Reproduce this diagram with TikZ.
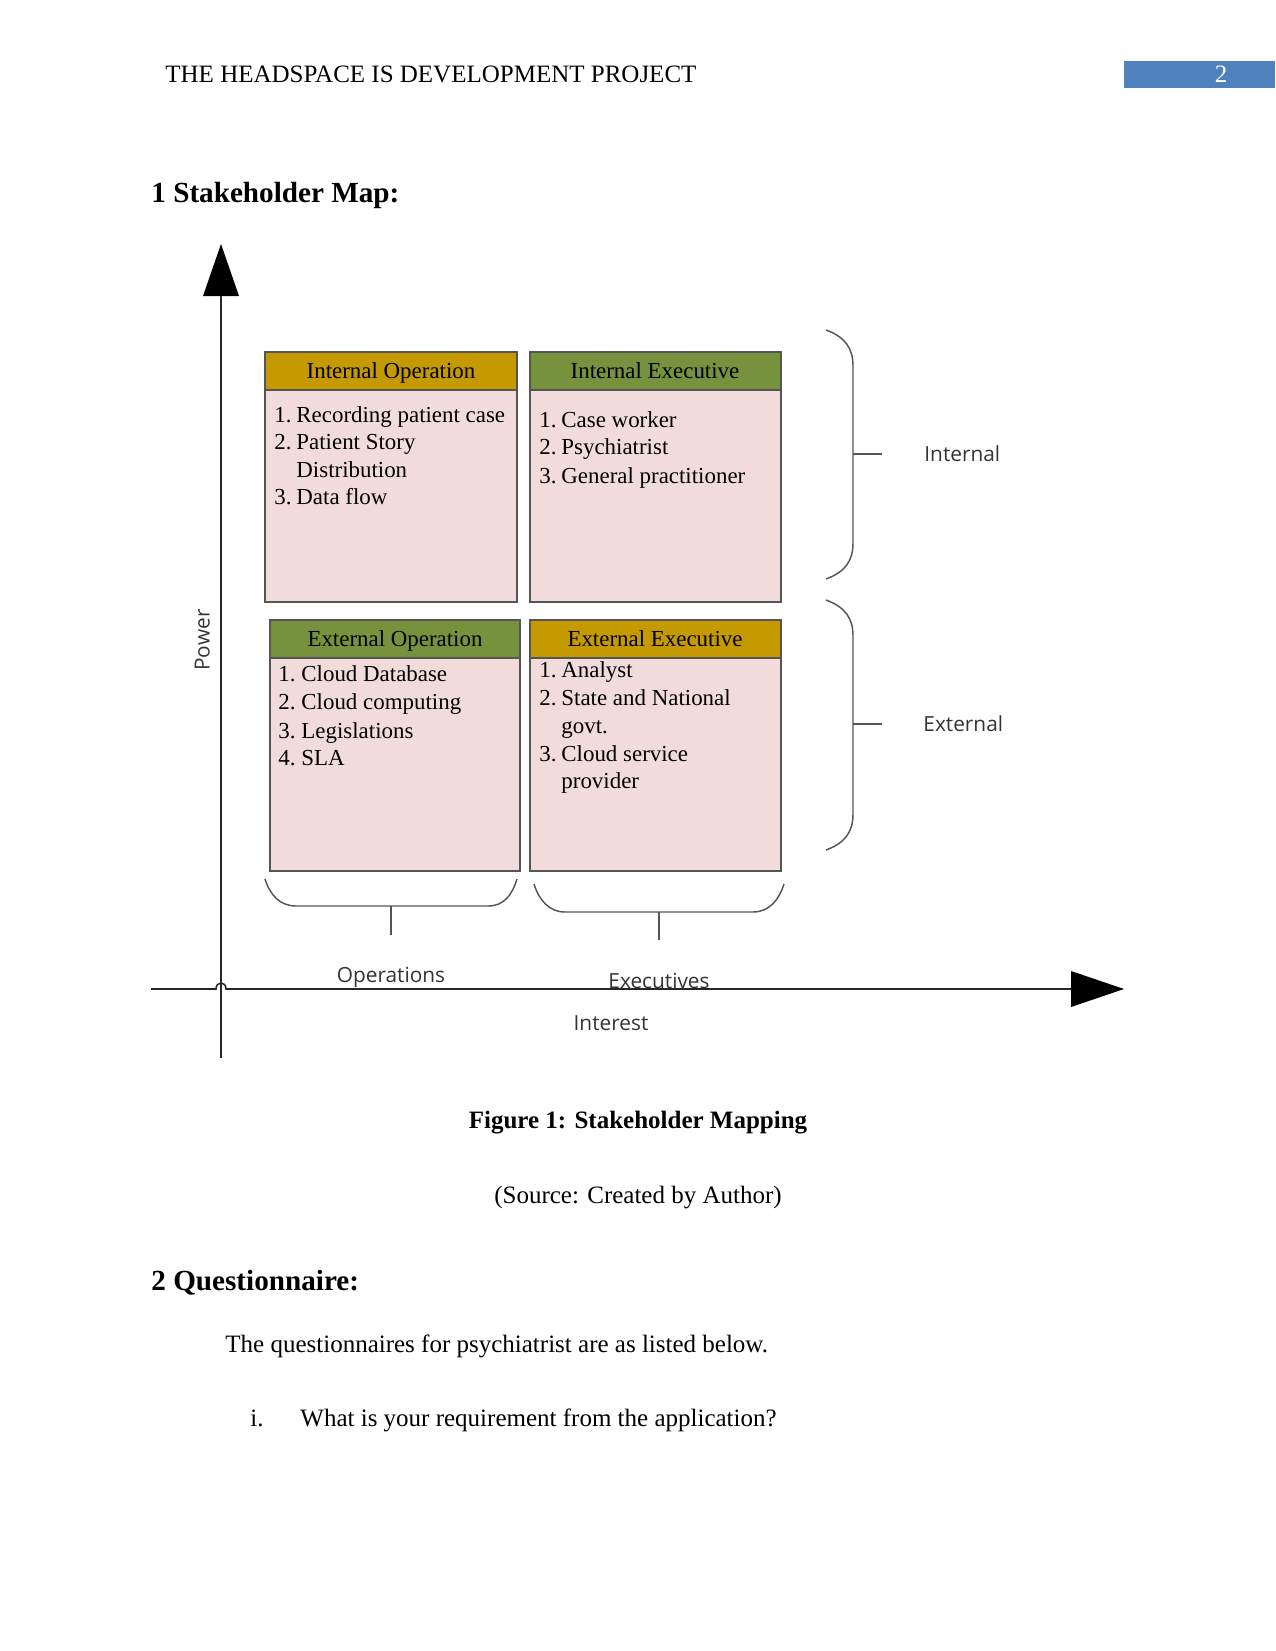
\documentclass[tikz,border=0pt]{standalone}
\usepackage{fontspec}
\setmainfont{Liberation Serif}
\newfontfamily\labelfont{Open Sans}
\definecolor{hdrgold}{HTML}{C49A00}
\definecolor{hdrgreen}{HTML}{76923C}
\definecolor{bodypink}{HTML}{F2DCDB}
\definecolor{pageblue}{HTML}{4F81BD}
\definecolor{edgegray}{HTML}{555555}
\begin{document}
\begin{tikzpicture}[x=0.48pt,y=-0.48pt,
  evenbox/.style={inner sep=0pt,text height=1.9ex,text depth=0.3ex},
  quadbody/.style={draw=edgegray,fill=bodypink,line width=0.8pt},
  quadhead/.style={draw=edgegray,line width=0.8pt},
  headtext/.style={evenbox,font=\fontsize{11}{13}\selectfont},
  itemtext/.style={evenbox,font=\fontsize{11}{13}\selectfont,anchor=west},
  sanslabel/.style={evenbox,font=\labelfont\fontsize{10}{12}\selectfont,text=black!80},
  bodytext/.style={evenbox,font=\fontsize{12}{14}\selectfont},
  bracket/.style={draw=edgegray,line width=0.7pt},
  axisline/.style={draw=black!85,line width=0.75pt}
]
\useasboundingbox (0,0) rectangle (1275,1651);

% page header
\node[bodytext,anchor=west] (runhead) at (165,75) {THE HEADSPACE IS DEVELOPMENT PROJECT};
\fill[pageblue] (1124,61) rectangle (1275,88);
\node[bodytext,text=white] (pagenum) at (1221,75) {2};

\node[evenbox,anchor=west,font=\bfseries\fontsize{14}{16}\selectfont] (sec1) at (151,195) {1 Stakeholder Map:};

% quadrant boxes
\path[quadbody] (265,352) rectangle (517,602);
\path[quadhead,fill=hdrgold] (265,352) rectangle (517,390);
\path[quadbody] (530,352) rectangle (781,602);
\path[quadhead,fill=hdrgreen] (530,352) rectangle (781,390);
\path[quadbody] (270,620) rectangle (520,871);
\path[quadhead,fill=hdrgreen] (270,620) rectangle (520,658);
\path[quadbody] (530,620) rectangle (781,871);
\path[quadhead,fill=hdrgold] (530,620) rectangle (781,658);

\node[headtext] (ioh) at (391,371) {Internal Operation};
\node[headtext] (ieh) at (655,371) {Internal Executive};
\node[headtext] (eoh) at (395,639) {External Operation};
\node[headtext] (eeh) at (655,639) {External Executive};

% Internal Operation items
\node[itemtext] (io1n) at (274,415) {1.};
\node[itemtext] (io1) at (296,415) {Recording patient case};
\node[itemtext] (io2n) at (274,442) {2.};
\node[itemtext] (io2) at (296,442) {Patient Story};
\node[itemtext] (io2b) at (296,470) {Distribution};
\node[itemtext] (io3n) at (274,497) {3.};
\node[itemtext] (io3) at (296,497) {Data flow};

% Internal Executive items
\node[itemtext] (ie1n) at (539,420) {1.};
\node[itemtext] (ie1) at (561,420) {Case worker};
\node[itemtext] (ie2n) at (539,447) {2.};
\node[itemtext] (ie2) at (561,447) {Psychiatrist};
\node[itemtext] (ie3n) at (539,476) {3.};
\node[itemtext] (ie3) at (561,476) {General practitioner};

% External Operation items
\node[itemtext] (eo1n) at (278,674) {1.};
\node[itemtext] (eo1) at (301,674) {Cloud Database};
\node[itemtext] (eo2n) at (278,702) {2.};
\node[itemtext] (eo2) at (301,702) {Cloud computing};
\node[itemtext] (eo3n) at (278,731) {3.};
\node[itemtext] (eo3) at (301,731) {Legislations};
\node[itemtext] (eo4n) at (278,758) {4.};
\node[itemtext] (eo4) at (301,758) {SLA};

% External Executive items
\node[itemtext] (ee1n) at (539,670) {1.};
\node[itemtext] (ee1) at (561,670) {Analyst};
\node[itemtext] (ee2n) at (539,698) {2.};
\node[itemtext] (ee2) at (561,698) {State and National};
\node[itemtext] (ee2b) at (561,726) {govt.};
\node[itemtext] (ee3n) at (539,754) {3.};
\node[itemtext] (ee3) at (561,754) {Cloud service};
\node[itemtext] (ee3b) at (561,781) {provider};

% right brackets
\draw[bracket] (826,330) .. controls (845,337) and (853,348) .. (853,366) -- (853,543) .. controls (853,561) and (845,572) .. (826,579);
\coordinate (tickin) at (853,454);
\node[sanslabel,anchor=west] (internal) at (924,454) {Internal};
\draw[bracket] (tickin) -- (882,454);
\draw[bracket] (826,600) .. controls (845,607) and (853,618) .. (853,636) -- (853,814) .. controls (853,832) and (845,843) .. (826,850);
\coordinate (tickex) at (853,724);
\node[sanslabel,anchor=west] (external) at (923,724) {External};
\draw[bracket] (tickex) -- (882,724);

% bottom brackets
\draw[bracket] (265,879) .. controls (270,895) and (280,906) .. (296,906) -- (488,906) .. controls (504,906) and (512,895) .. (517,879);
\coordinate (tickop) at (391,906);
\coordinate (tickopend) at (391,935);
\draw[bracket] (tickop) -- (tickopend);
\draw[bracket] (534,884) .. controls (539,900) and (549,912) .. (565,912) -- (753,912) .. controls (769,912) and (779,900) .. (784,884);
\coordinate (tickexe) at (659,912);
\coordinate (tickexeend) at (659,940);
\draw[bracket] (tickexe) -- (tickexeend);

\node[sanslabel] (ops) at (391,975) {Operations};
\node[sanslabel] (exes) at (659,981) {Executives};
\node[sanslabel] (interest) at (611,1023) {Interest};
\node[sanslabel,rotate=90] (power) at (202,640) {Power};

% axes
\coordinate (origin) at (221,989);
\coordinate (ytop) at (221,295);
\coordinate (ybottom) at (221,1058);
\coordinate (xleft) at (151,989);
\coordinate (xright) at (1071,989);
\draw[axisline] (ybottom) -- (ytop);
\fill[black] (221,244) -- (239,296) -- (203,296) -- cycle;
\draw[axisline] (xleft) -- (216,989) .. controls (216,981) and (226,981) .. (226,989) -- (xright);
\fill[black] (1124,989) -- (1071,971) -- (1071,1007) -- cycle;

% captions and text
\node[bodytext,font=\bfseries\fontsize{12}{14}\selectfont] (fig) at (638,1121) {Figure 1: Stakeholder Mapping};
\node[bodytext] (src) at (638,1196) {(Source: Created by Author)};
\node[evenbox,anchor=west,font=\bfseries\fontsize{14}{16}\selectfont] (sec2) at (151,1283) {2 Questionnaire:};
\node[bodytext,anchor=west] (intro) at (225,1345) {The questionnaires for psychiatrist are as listed below.};
\node[bodytext,anchor=west] (q1n) at (250,1419) {i.};
\node[bodytext,anchor=west] (q1) at (300,1419) {What is your requirement from the application?};
\end{tikzpicture}
\end{document}
